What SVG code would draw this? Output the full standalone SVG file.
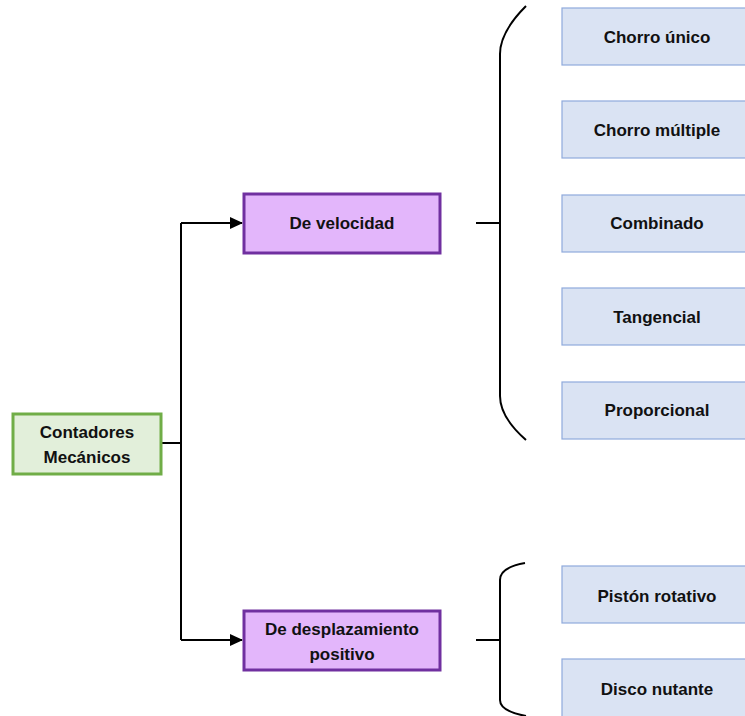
<svg xmlns="http://www.w3.org/2000/svg" width="745" height="716" viewBox="0 0 745 716">
  <style>
    .lbl { font-family: "Liberation Sans", Arial, sans-serif; font-weight: bold; font-size: 17px; fill: #111; text-anchor: middle; dominant-baseline: central; }
    .root { fill: #e2efda; stroke: #70ad47; stroke-width: 3; }
    .cat { fill: #e3b6fb; stroke: #7030a0; stroke-width: 3; }
    .leaf { fill: #dae3f3; stroke: #8faadc; stroke-width: 1.2; }
    .wire { fill: none; stroke: #000; stroke-width: 2; }
  </style>
  <defs>
    <marker id="arrow" markerWidth="13" markerHeight="12" refX="12" refY="6" orient="auto" markerUnits="userSpaceOnUse">
      <path d="M0,0 L13,6 L0,12 Z" fill="#000"/>
    </marker>
  </defs>
  <rect width="745" height="716" fill="#fff"/>

  <g id="connectors">
    <path class="wire" d="M161,443 H181"/>
    <path class="wire" d="M181,223 V640"/>
    <path class="wire" d="M181,223 H242" marker-end="url(#arrow)"/>
    <path class="wire" d="M181,640 H242" marker-end="url(#arrow)"/>
    <path class="wire" d="M476,223 H500"/>
    <path class="wire" d="M476,640 H500"/>
    <!-- upper brace -->
    <path class="wire" d="M526,6 C510,22 500,38 500,54 V396 C500,412 510,426 526,440"/>
    <!-- lower brace -->
    <path class="wire" d="M525,563 C508,566 500,572 500,580 V700 C500,708 510,713 526,716"/>
  </g>

  <g id="contadores">
    <rect class="root" x="13" y="414" width="148" height="60"/>
    <text class="lbl" x="87" y="432">Contadores</text>
    <text class="lbl" x="87" y="457">Mecánicos</text>
  </g>

  <g id="velocidad">
    <rect class="cat" x="244" y="194" width="196" height="59"/>
    <text class="lbl" x="342" y="223">De velocidad</text>
  </g>

  <g id="desplazamiento">
    <rect class="cat" x="244" y="611" width="196" height="59"/>
    <text class="lbl" x="342" y="629">De desplazamiento</text>
    <text class="lbl" x="342" y="654">positivo</text>
  </g>

  <g id="chorro-unico">
    <rect class="leaf" x="562" y="8" width="190" height="57"/>
    <text class="lbl" x="657" y="37">Chorro único</text>
  </g>
  <g id="chorro-multiple">
    <rect class="leaf" x="562" y="101" width="190" height="57"/>
    <text class="lbl" x="657" y="130">Chorro múltiple</text>
  </g>
  <g id="combinado">
    <rect class="leaf" x="562" y="195" width="190" height="57"/>
    <text class="lbl" x="657" y="223">Combinado</text>
  </g>
  <g id="tangencial">
    <rect class="leaf" x="562" y="288" width="190" height="57"/>
    <text class="lbl" x="657" y="317">Tangencial</text>
  </g>
  <g id="proporcional">
    <rect class="leaf" x="562" y="382" width="190" height="57"/>
    <text class="lbl" x="657" y="410">Proporcional</text>
  </g>
  <g id="piston-rotativo">
    <rect class="leaf" x="562" y="566" width="190" height="57"/>
    <text class="lbl" x="657" y="596">Pistón rotativo</text>
  </g>
  <g id="disco-nutante">
    <rect class="leaf" x="562" y="659" width="190" height="70"/>
    <text class="lbl" x="657" y="689">Disco nutante</text>
  </g>
</svg>
